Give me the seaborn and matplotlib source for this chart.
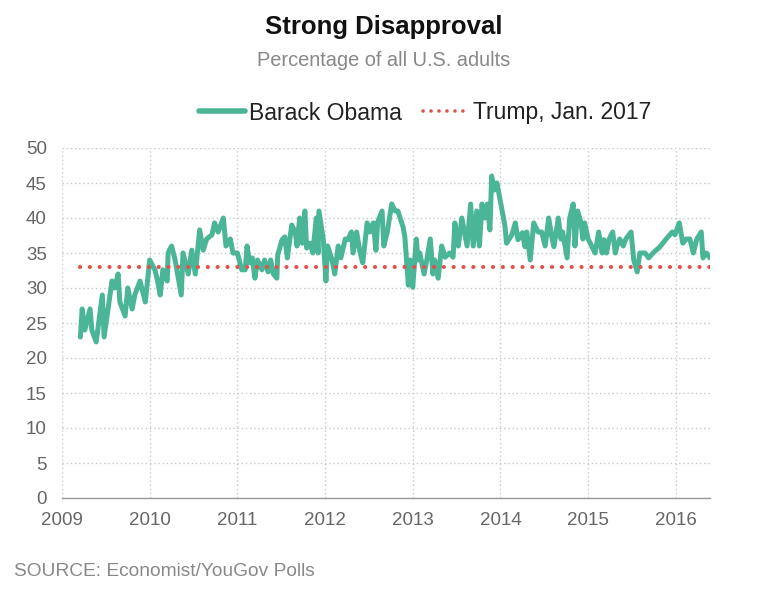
import matplotlib
matplotlib.use("Agg")
import matplotlib.pyplot as plt
import seaborn as sns
import pandas as pd
from matplotlib.lines import Line2D

years = [2009.21, 2009.23, 2009.26, 2009.32, 2009.34, 2009.39, 2009.46, 2009.48, 2009.57, 2009.60,
         2009.64, 2009.66, 2009.72, 2009.75, 2009.80, 2009.83, 2009.89, 2009.95, 2010.00, 2010.06,
         2010.09, 2010.12, 2010.15, 2010.20, 2010.21, 2010.25, 2010.29, 2010.36, 2010.38, 2010.44,
         2010.48, 2010.52, 2010.57, 2010.61, 2010.65, 2010.71, 2010.74, 2010.78, 2010.84, 2010.87,
         2010.92, 2010.95, 2011.00, 2011.05, 2011.09, 2011.11, 2011.14, 2011.17, 2011.20, 2011.23,
         2011.28, 2011.31, 2011.35, 2011.38, 2011.41, 2011.45, 2011.46, 2011.51, 2011.54, 2011.57,
         2011.62, 2011.66, 2011.68, 2011.71, 2011.74, 2011.77, 2011.79, 2011.83, 2011.86, 2011.90,
         2011.92, 2011.93, 2011.98, 2012.01, 2012.03, 2012.08, 2012.11, 2012.15, 2012.18, 2012.23,
         2012.26, 2012.30, 2012.32, 2012.36, 2012.40, 2012.43, 2012.48, 2012.51, 2012.55, 2012.58,
         2012.60, 2012.65, 2012.67, 2012.71, 2012.76, 2012.80, 2012.83, 2012.89, 2012.91, 2012.95,
         2012.97, 2013.00, 2013.04, 2013.06, 2013.08, 2013.13, 2013.16, 2013.20, 2013.23, 2013.25,
         2013.29, 2013.33, 2013.37, 2013.42, 2013.46, 2013.48, 2013.52, 2013.56, 2013.62, 2013.66,
         2013.69, 2013.73, 2013.76, 2013.79, 2013.82, 2013.85, 2013.88, 2013.90, 2013.93, 2013.96,
         2013.99, 2014.05, 2014.07, 2014.13, 2014.17, 2014.20, 2014.25, 2014.28, 2014.30, 2014.34,
         2014.38, 2014.43, 2014.47, 2014.51, 2014.55, 2014.59, 2014.61, 2014.66, 2014.69, 2014.71,
         2014.76, 2014.79, 2014.83, 2014.85, 2014.88, 2014.92, 2014.94, 2014.96, 2015.00, 2015.04,
         2015.08, 2015.12, 2015.16, 2015.18, 2015.21, 2015.24, 2015.28, 2015.31, 2015.33, 2015.36,
         2015.40, 2015.43, 2015.49, 2015.52, 2015.56, 2015.59, 2015.65, 2015.69, 2015.74, 2015.82,
         2015.89, 2015.96, 2015.99, 2016.04, 2016.08, 2016.12, 2016.16, 2016.20, 2016.24, 2016.29,
         2016.31, 2016.35, 2016.39]

obama = [23, 27, 24, 27, 24, 22.3, 29, 23, 31, 30,
         32, 28, 26, 30, 27, 29, 31, 28, 34, 32.6,
         31, 29, 32.6, 31, 35, 36, 34, 29, 35, 32,
         35.4, 32, 38.3, 35.4, 37, 37.6, 39.3, 38, 40, 36,
         37, 35, 35, 32.6, 32.6, 36, 33.6, 34.3, 31.4, 34,
         32.6, 34, 32.3, 34, 32, 31.4, 34.7, 36.9, 37.3, 34.3,
         39, 38, 36, 40, 36.4, 41, 35.7, 36.4, 35, 40,
         35, 41, 36.9, 31, 36, 34, 32, 36, 34.3, 37,
         36.9, 38, 35, 38, 35, 33.6, 39.3, 38, 39.3, 35.4,
         39.4, 41, 36, 38, 42, 41, 41, 38.7, 37.3, 30.4,
         34, 30.1, 37, 34, 35, 32, 34, 37, 32, 34,
         31.4, 36, 34.4, 35, 34.4, 39.3, 36, 40, 36, 42,
         36, 41, 36, 42, 40, 42, 38.3, 46, 44, 45,
         43, 39, 36.4, 37.6, 39.3, 36.9, 37.9, 35.9, 38, 34,
         39.3, 38, 38, 36, 40, 37, 35.9, 40, 37, 38,
         34.3, 40, 42, 36, 41, 39.3, 37, 39.3, 37, 36,
         35, 38, 35, 36.9, 35, 37, 38, 35, 36, 37,
         36, 37, 38, 34, 32.3, 35, 35, 34.3, 35, 35.9,
         37, 38, 37.6, 39.3, 36.4, 37, 37, 35, 37, 38,
         34.3, 35, 34.3]

trump_value = 33
year_ticks = [2009, 2010, 2011, 2012, 2013, 2014, 2015, 2016]
y_ticks = list(range(0, 51, 5))

teal = "#4BB597"
red = "#E0534C"
gray = "#666666"

sns.set_theme(style="white")
plt.rcParams['font.family'] = ['Liberation Sans', 'DejaVu Sans']

fig = plt.figure(figsize=(7.68, 5.94), dpi=100)
ax = fig.add_axes([62/768, 1-498/594, (710-62)/768, (498-148)/594])

df = pd.DataFrame({"year": years, "value": obama})
sns.lineplot(data=df, x="year", y="value", ax=ax, color=teal, linewidth=3.6,
             solid_joinstyle="round", solid_capstyle="round")
ax.plot([years[0], years[-1]], [trump_value, trump_value], color=red, linewidth=3.0,
        linestyle=(0, (0.01, 2.35)), dash_capstyle="round")

ax.set_xlim(2009, 2016.39)
ax.set_ylim(0, 50)
ax.set_xticks(year_ticks)
ax.set_xticklabels([str(y) for y in year_ticks])
ax.set_yticks(y_ticks)
ax.set_xlabel("")
ax.set_ylabel("")
ax.grid(True, color="#c8c8c8", linestyle=(0, (1, 2)), linewidth=1)
for s in ["top", "right", "left"]:
    ax.spines[s].set_visible(False)
ax.spines["bottom"].set_color("#999999")
ax.spines["bottom"].set_linewidth(1)
ax.tick_params(axis="both", labelsize=13.5, colors=gray, length=0)
ax.tick_params(axis="y", pad=11)
ax.tick_params(axis="x", pad=10)

fig.text(0.5, 1-27/594, "Strong Disapproval", ha="center", va="center",
         fontsize=18.5, fontweight="bold", color="#111111")
fig.text(0.5, 1-61/594, "Percentage of all U.S. adults", ha="center", va="center",
         fontsize=14.4, color="#888888")

handles = [Line2D([0], [0], color=teal, linewidth=4),
           Line2D([0], [0], color=red, linewidth=2.6, linestyle=(0, (0.01, 2.2)), dash_capstyle="round")]
fig.legend(handles, ["Barack Obama", "Trump, Jan. 2017"], loc="center",
           bbox_to_anchor=(425/768, 1-113/594), ncol=2, frameon=False, fontsize=16.5,
           handlelength=2.0, handletextpad=0.2, columnspacing=0.9, labelcolor="#222222")

fig.text(14/768, 1-572/594, "SOURCE: Economist/YouGov Polls", ha="left", va="center",
         fontsize=13.8, color="#888888")

fig.savefig("out.png", dpi=100)
